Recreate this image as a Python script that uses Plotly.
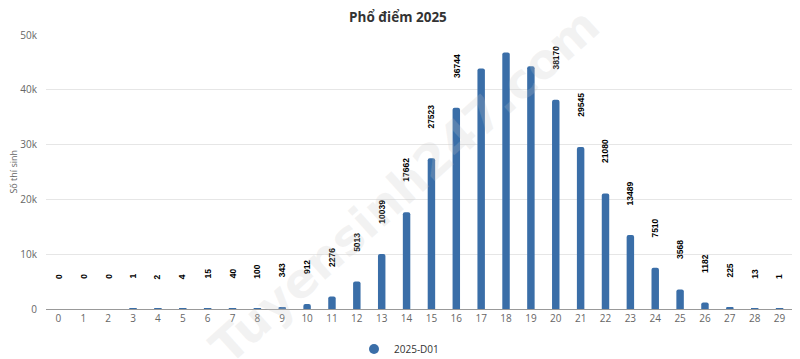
import plotly.graph_objects as go

scores = list(range(30))
counts = [0, 0, 0, 1, 2, 4, 15, 40, 100, 343, 912, 2276, 5013, 10039, 17662,
          27523, 36744, 43900, 46800, 44300, 38170, 29545, 21080, 13489, 7510,
          3568, 1182, 225, 13, 1]
show_label = [True] * 30
for i in (17, 18, 19):
    show_label[i] = False

title = "Phổ điểm 2025"
series_name = "2025-D01"
y_title = "Số thí sinh"
y_ticks = [0, 10000, 20000, 30000, 40000, 50000]
y_ticktext = ["0", "10k", "20k", "30k", "40k", "50k"]

bar_color = "#3a6ea8"
font_family = "Open Sans, Noto Sans, sans-serif"

# The page body has an 8px default margin; the figure is sized so that it
# fills the 800x359 window from that offset.
W, H = 792, 351

fig = go.Figure()
fig.add_trace(go.Bar(
    x=scores, y=counts, marker=dict(color=bar_color, cornerradius=2, line=dict(width=0)),
    showlegend=False, hoverinfo="x+y",
))
fig.add_trace(go.Scatter(
    x=[None], y=[None], mode="markers", name=series_name,
    marker=dict(symbol="circle", size=10, color=bar_color),
))

annotations = []
for s, c, show in zip(scores, counts, show_label):
    if not show:
        continue
    annotations.append(dict(
        x=s, y=c, xref="x", yref="y", text="<b>%d</b>" % c, showarrow=False,
        textangle=-90, yanchor="bottom", xanchor="center", yshift=29,
        borderpad=0, font=dict(size=8.5, color="#000000", family="Liberation Sans"),
    ))

annotations.append(dict(
    x=0.48, y=0.45, xref="paper", yref="paper", text="<b>Tuyensinh247.com</b>",
    showarrow=False, textangle=-42, xanchor="center", yanchor="middle",
    font=dict(size=48, color="rgba(200,200,200,0.22)", family="DejaVu Sans"),
))

annotations.append(dict(
    x=-0.0448, y=0.5, xref="paper", yref="paper", text=y_title, showarrow=False,
    textangle=-90, xanchor="center", yanchor="middle",
    font=dict(size=9, color="#666666"),
))

fig.update_layout(
    width=W, height=H,
    margin=dict(l=37.5, r=7.5, t=27, b=50, autoexpand=False),
    paper_bgcolor="white", plot_bgcolor="white",
    font=dict(family=font_family, color="#666666", size=10),
    title=dict(text="<b>" + title + "</b>", x=0.4924, xref="container", xanchor="center",
               y=0.975, yref="container", yanchor="middle",
               font=dict(size=13.5, color="#333333", family=font_family)),
    bargap=0.7,
    showlegend=True,
    legend=dict(orientation="h", x=0.4937, xref="container", xanchor="center",
                y=0.0285, yanchor="middle", yref="container",
                font=dict(size=10, color="#333333")),
    annotations=annotations,
    xaxis=dict(
        tickmode="array", tickvals=scores, ticktext=[str(s) for s in scores],
        range=[-0.5, 29.5], showgrid=False, showline=True, linecolor="#999999",
        linewidth=1, ticks="", tickfont=dict(size=10, color="#666666"), automargin=False,
    ),
    yaxis=dict(
        range=[0, 50000], tickmode="array", tickvals=y_ticks, ticktext=y_ticktext,
        showgrid=True, gridcolor="#e6e6e6", zeroline=False, showline=False,
        tickfont=dict(size=10, color="#666666"), ticklabelstandoff=8, automargin=False,
    ),
)

fig.write_html("out.html")
